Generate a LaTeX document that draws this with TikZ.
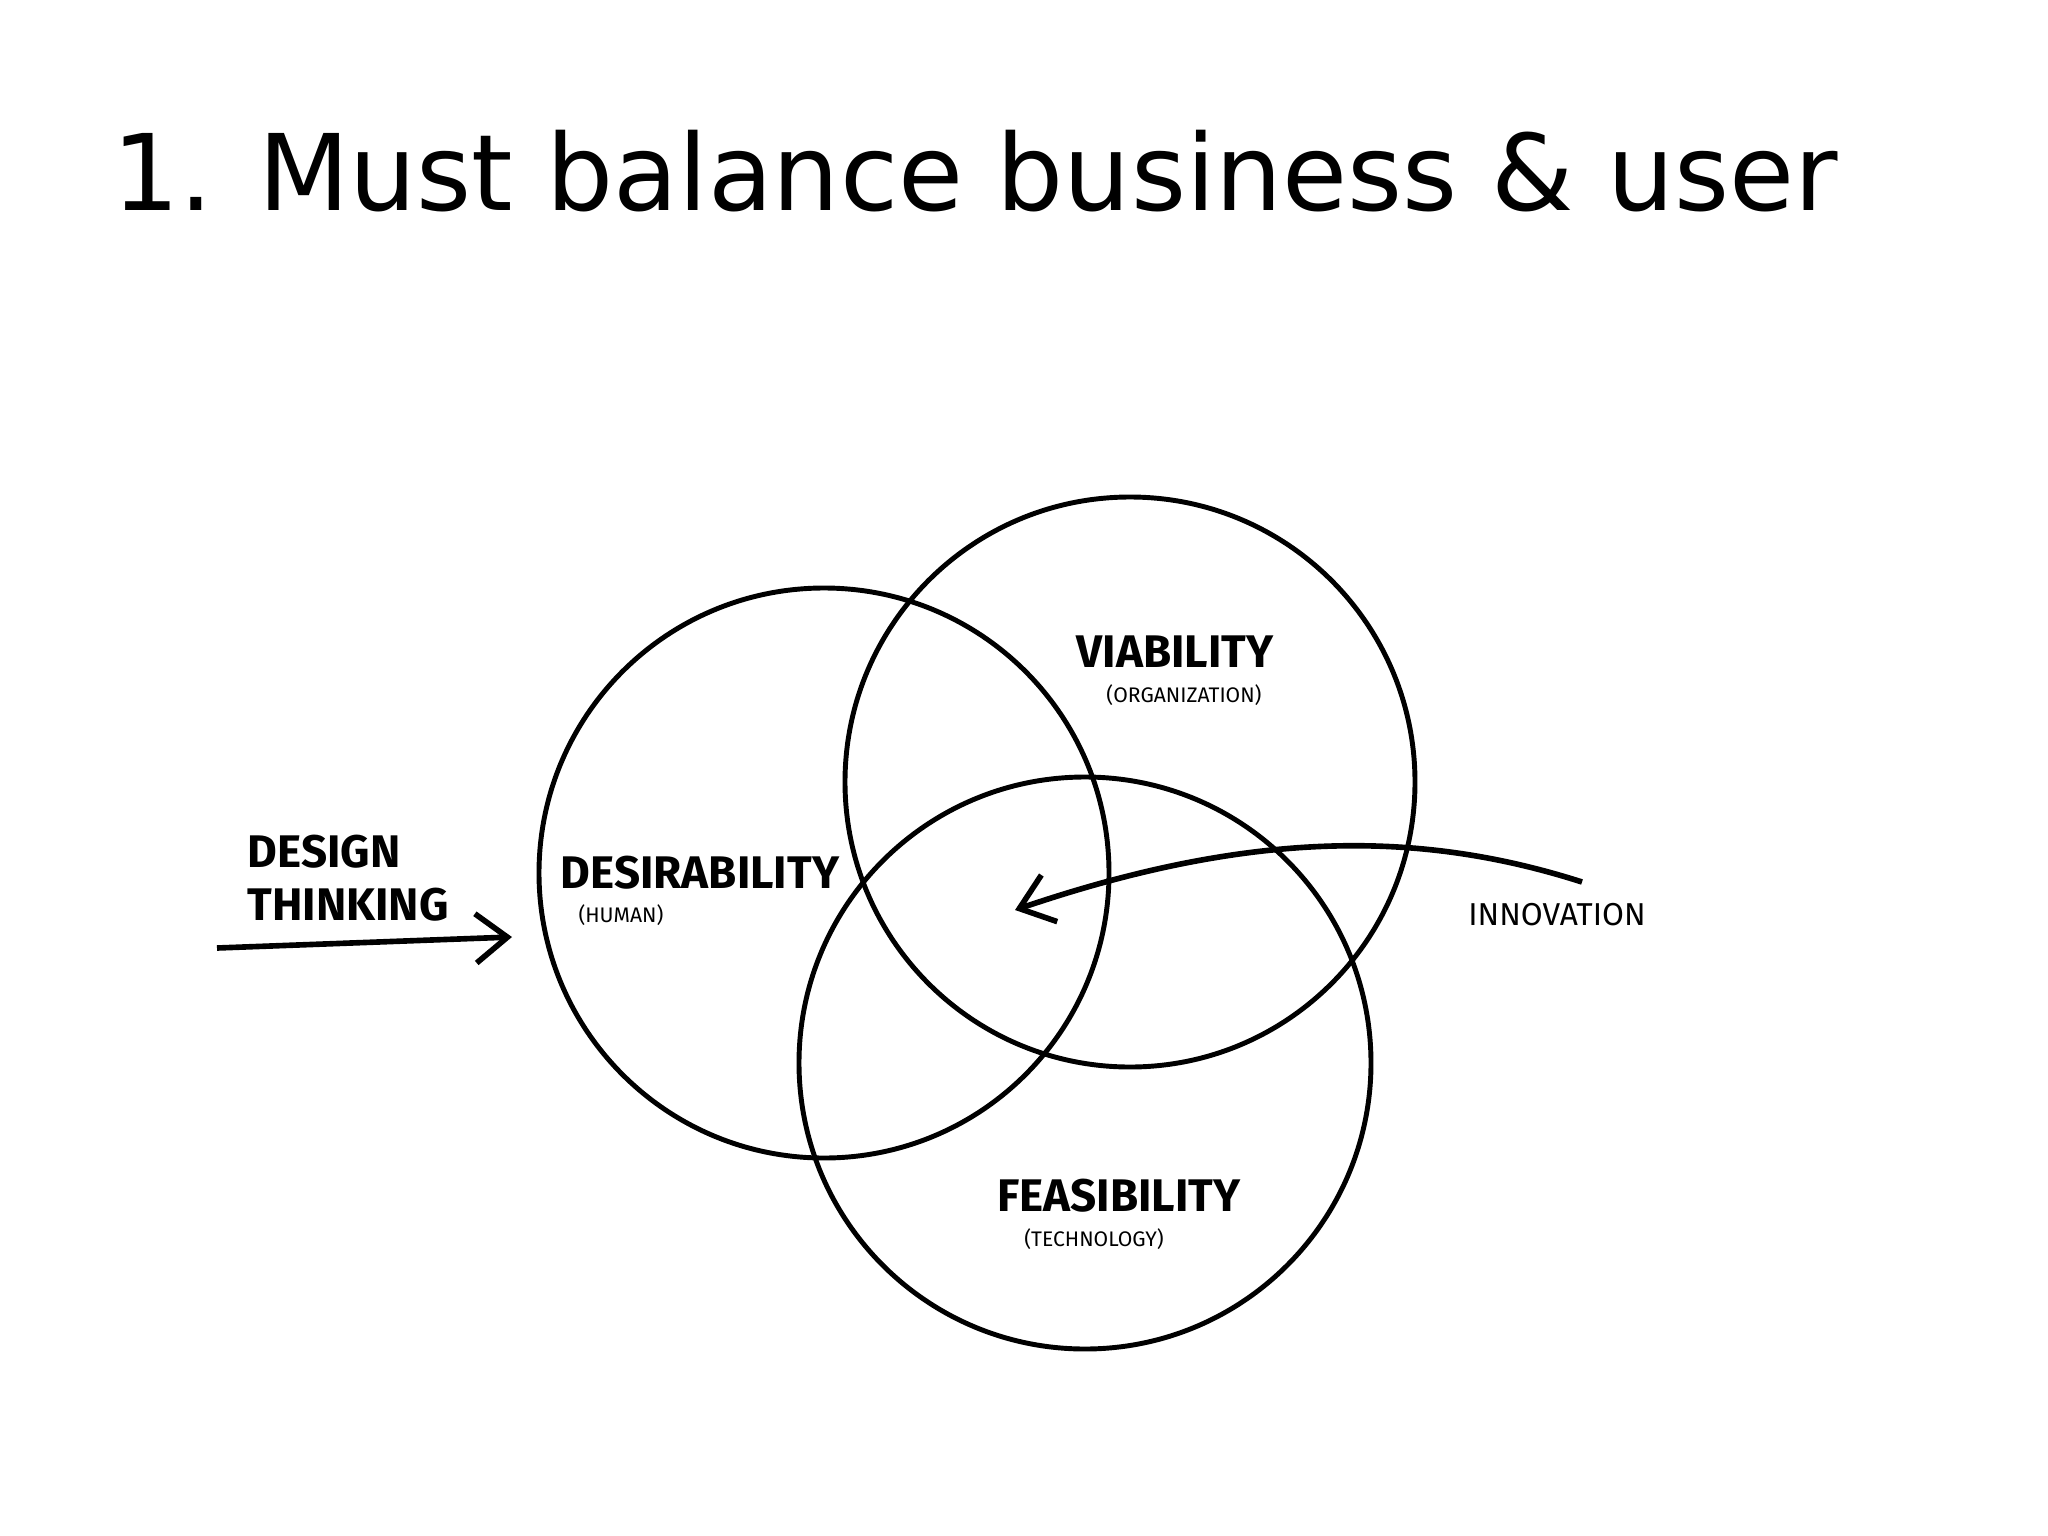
\documentclass[tikz,border=0pt]{standalone}
\usepackage{fontspec}
\setmainfont{DejaVu Sans}
\newfontfamily\handfont{Fira Sans}
\usetikzlibrary{arrows.meta}
\begin{document}
\begin{tikzpicture}[x=0.01cm,y=-0.01cm,
  ring/.style={draw=black,line width=1.4pt},
  big/.style={font=\handfont\fontsize{13}{15}\selectfont\bfseries,inner sep=0pt},
  small/.style={font=\handfont\fontsize{6}{7}\selectfont,inner sep=0pt},
  arr/.style={line width=1.6pt,-{Straight Barb[length=9pt,width=14pt]}}]
\useasboundingbox[fill=white] (0,0) rectangle (2048,1536);
\node[anchor=base west,inner sep=0pt] (title) at (112,210) {\resizebox{17.24cm}{!}{1. Must balance business \& user}};
\draw[ring] (824,873) circle (285);
\draw[ring] (1130,782) circle (285);
\draw[ring] (1085,1063) circle (286);
\node[big] (vi) at (1175,652) {VIABILITY};
\node[small] (org) at (1184,695) {(ORGANIZATION)};
\node[big] (de) at (700,873) {DESIRABILITY};
\node[small] (hu) at (621,915) {(HUMAN)};
\node[big] (fe) at (1119,1196) {FEASIBILITY};
\node[small] (te) at (1094,1239) {(TECHNOLOGY)};
\node[big,align=left,anchor=west] (dt) at (247,878) {DESIGN\\THINKING};
\node[small,font=\handfont\fontsize{9}{10}\selectfont] (in) at (1557,915) {INNOVATION};
\coordinate (a1) at (217,948);
\coordinate (a2) at (512,937);
\draw[arr] (a1) -- (a2);
\coordinate (b1) at (1582,882);
\coordinate (b2) at (1015,910);
\draw[arr] (b1) .. controls (1420,830) and (1250,830) .. (b2);
\end{tikzpicture}
\end{document}
